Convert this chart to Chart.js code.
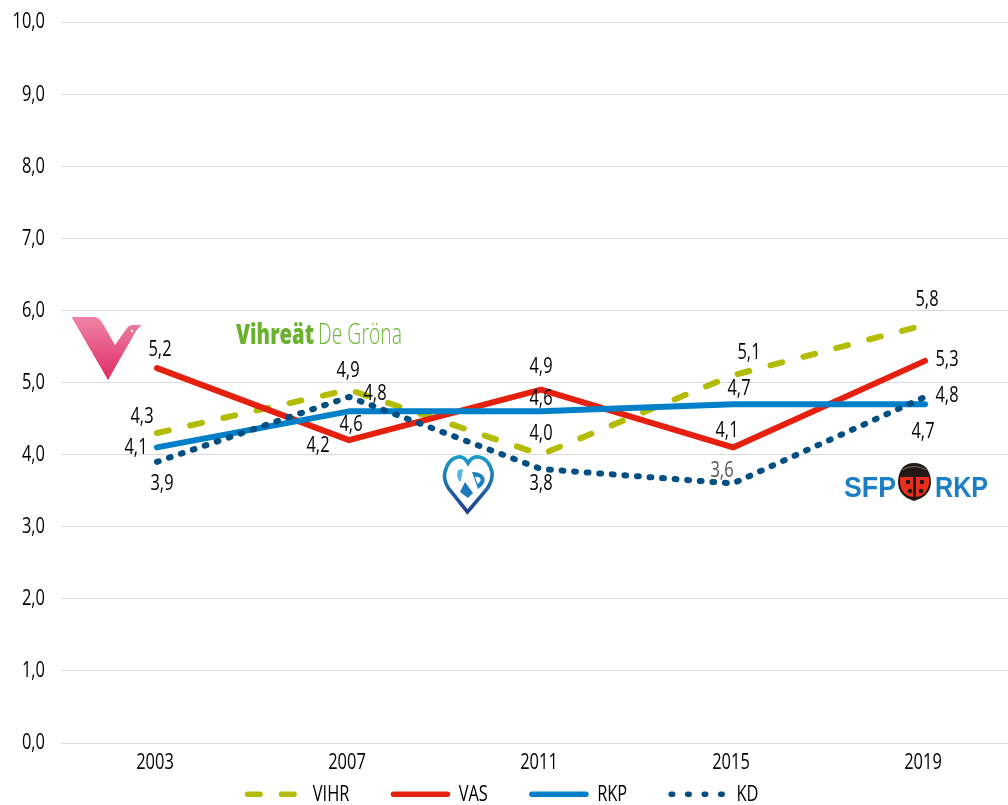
<!DOCTYPE html>
<html><head><meta charset="utf-8">
<style>
html,body{margin:0;padding:0;background:#fff;overflow:hidden;width:1008px;height:805px}
#wrap{position:absolute;left:-17px;top:0;width:1038px;height:805px}
#logos{position:absolute;left:0;top:0;width:1008px;height:805px;pointer-events:none}
</style>
<script src="https://cdn.jsdelivr.net/npm/chart.js@4"></script>
</head><body>
<div id="wrap"><canvas id="c" width="1038" height="805"></canvas></div>
<svg id="logos" width="1008" height="805" viewBox="0 0 1008 805">
  <defs>
    <linearGradient id="vg" x1="0" y1="0" x2="0" y2="1"><stop offset="0" stop-color="#ee86a6"/><stop offset="1" stop-color="#e02a62"/></linearGradient>
    <linearGradient id="kg" x1="0" y1="0" x2="0" y2="1"><stop offset="0" stop-color="#1c9cca"/><stop offset="1" stop-color="#1f3f8c"/></linearGradient>
  </defs>
  <path d="M71.5 317 L95 317 Q100 318 103 324 L115 345 L127 328 Q129 325 133 325 L141.5 325 L136 331 L108 380 Z" fill="url(#vg)"/>
  <circle cx="132" cy="331" r="1.2" fill="#fff"/>
  <text x="236" y="344" font-family="'Open Sans'" font-weight="800" font-size="29" fill="#69b12e" textLength="78" lengthAdjust="spacingAndGlyphs">Vihreät</text>
  <text x="318" y="344" font-family="'Open Sans'" font-weight="300" font-size="29" fill="#6db638" textLength="84" lengthAdjust="spacingAndGlyphs">De Gröna</text>
  <path d="M467.5 512 L449 489 Q443 480 445 472 Q448 459 458 457 Q464 456 468 463 Q472 456 479 457 Q489 459 492 472 Q493 480 487 489 Z" fill="#fff" stroke="url(#kg)" stroke-width="3.6"/>
  <path d="M458 470 L463 469 L461 481 L459 481 Q456 476 458 470 Z" fill="#5ab8dc"/>
  <path d="M465 482 L473 493 L468 498 L460 492 Z" fill="#1a78bc"/>
  <path d="M472 472 Q481 472 484 477 Q487 483 478 489 Z M475 477 L477.5 484 Q482 481 480 478 Q478 476 475 477 Z" fill="#1a84c2" fill-rule="evenodd"/>
  <text x="844" y="497" font-family="'Liberation Sans'" font-weight="700" font-size="29" fill="#1a7fc4" textLength="52" lengthAdjust="spacingAndGlyphs">SFP</text>
  <text x="935" y="497" font-family="'Liberation Sans'" font-weight="700" font-size="29" fill="#1a7fc4" textLength="53" lengthAdjust="spacingAndGlyphs">RKP</text>
  <path d="M914 463 Q930 463 931 482 Q931 496 914 501 Q898 496 898 482 Q899 463 914 463 Z" fill="#231815"/>
  <path d="M902 470 Q914 463 927 470" fill="none" stroke="#77716e" stroke-width="1"/>
  <path d="M900 477 L913 477 L913 497 Q902 496 900 484 Z" fill="#e8301f"/>
  <path d="M929 477 L916 477 L916 497 Q927 496 929 484 Z" fill="#e8301f"/>
  <g fill="#231815"><circle cx="908" cy="482" r="2.3"/><circle cx="922" cy="482" r="2.3"/><circle cx="910" cy="491" r="2.3"/><circle cx="921" cy="491" r="2.3"/></g>
</svg>
<script>
const categories = ['2003','2007','2011','2015','2019'];
const yTicks = [0,1,2,3,4,5,6,7,8,9,10];
const vihr = [4.3,4.9,4.0,5.1,5.8];
const vas  = [5.2,4.2,4.9,4.1,5.3];
const rkp  = [4.1,4.6,4.6,4.7,4.7];
const kd   = [3.9,4.8,3.8,3.6,4.8];
const vihrOffsets = [[-15,-16],[-1,-19],[0,-21],[16,-23],[2,-25]];
const vasOffsets  = [[3,-18],[-31,5],[0,-23],[-6,-17],[22,-1]];
const rkpOffsets  = [[-21,0],[2,13],[0,-13],[6,-16],[-2,27]];
const kdOffsets   = [[5,22],[26,-3],[0,15],[-11,-13],[22,-1]];
const kdLabelColors = ['#000','#000','#000','#555','#000'];
const FONT = "'Open Sans',sans-serif";
const FS = 22.5;
const SQUEEZE = 0.73;
const fmt = v => v.toFixed(1).replace('.',',');
const labelOffsets = [vihrOffsets,vasOffsets,rkpOffsets,kdOffsets];
const legendDash = [[12.5,21.5],[],[],[1.5,15]];

const canvas = document.getElementById('c');
const c2d = canvas.getContext('2d');
const rawFill = c2d.fillText.bind(c2d);
const rawMeasure = c2d.measureText.bind(c2d);
c2d.fillText = (t,x,y)=>{c2d.save();c2d.translate(x,y);c2d.scale(SQUEEZE,1);rawFill(t,0,0);c2d.restore();};
c2d.measureText = t=>{const m=rawMeasure(t);return {width:m.width*SQUEEZE};};

const labelsPlugin = {
  id:'pointLabels',
  beforeLayout(chart){
    const L = chart.legend;
    if(L && !L._patched){const f=L.fit;L.fit=function(){f.call(this);this.height=20;};L._patched=true;}
  },
  afterLayout(chart){ const L=chart.legend; if(L){ L.top = 739; L.left += 1; L.right += 1; } },
  afterDatasetsDraw(chart){
    const ctx = chart.ctx;
    ctx.save();
    ctx.font = '500 '+FS+'px '+FONT;
    ctx.textAlign='center'; ctx.textBaseline='middle';
    chart.data.datasets.forEach((ds,d)=>{
      const meta = chart.getDatasetMeta(d);
      meta.data.forEach((pt,i)=>{
        ctx.fillStyle = d===3 ? kdLabelColors[i] : '#000';
        const o = labelOffsets[d][i];
        ctx.fillText(fmt(ds.data[i]), pt.x+o[0], pt.y+o[1]);
      });
    });
    ctx.restore();
  }
};
const line = (label,data,color,dash,order)=>({label,data,borderColor:color,backgroundColor:color,borderWidth:6,
  borderDash:dash,borderCapStyle:'round',borderJoinStyle:'round',tension:0,pointRadius:0,pointHoverRadius:0,fill:false,order});
const tickFont = {family:FONT,size:FS,weight:'500'};
new Chart(canvas,{
  type:'line',
  data:{labels:categories,datasets:[
    line('VIHR',vihr,'#b3bc00',[12,22],4),
    line('VAS',vas,'#e5200f',[],3),
    line('RKP',rkp,'#0080c8',[],2),
    line('KD',kd,'#004e82',[1.8,10.8],1)
  ]},
  options:{
    responsive:false,animation:false,
    layout:{padding:{top:22,left:0,right:0,bottom:0}},
    plugins:{
      tooltip:{enabled:false},
      legend:{position:'bottom',labels:{
        usePointStyle:true,pointStyle:'line',pointStyleWidth:54,boxHeight:20,padding:44,
        color:'#000',font:tickFont,
        generateLabels(chart){
          return chart.data.datasets.map((ds,i)=>({text:ds.label,datasetIndex:i,pointStyle:'line',
            strokeStyle:ds.borderColor,fillStyle:ds.borderColor,fontColor:'#000',lineWidth:5.5,lineCap:'round',lineDash:legendDash[i],hidden:false}));
        }
      }}
    },
    scales:{
      x:{offset:true,grid:{display:false},border:{display:false},
        ticks:{color:'#000',font:tickFont,padding:-2,labelOffset:-2,maxRotation:0},
        afterFit(s){s.height=42;s.paddingLeft=0;s.paddingRight=0;}},
      y:{min:0,max:10,grid:{color:'#dcdcdc',lineWidth:1,drawTicks:false},border:{display:false},
        afterBuildTicks(s){s.ticks=yTicks.map(v=>({value:v}));},
        ticks:{color:'#000',font:tickFont,padding:16,callback:v=>fmt(v)},
        afterFit(s){s.width=78;s.paddingTop=0;s.paddingBottom=0;}}
    }
  },
  plugins:[labelsPlugin]
});
</script>
</body></html>
